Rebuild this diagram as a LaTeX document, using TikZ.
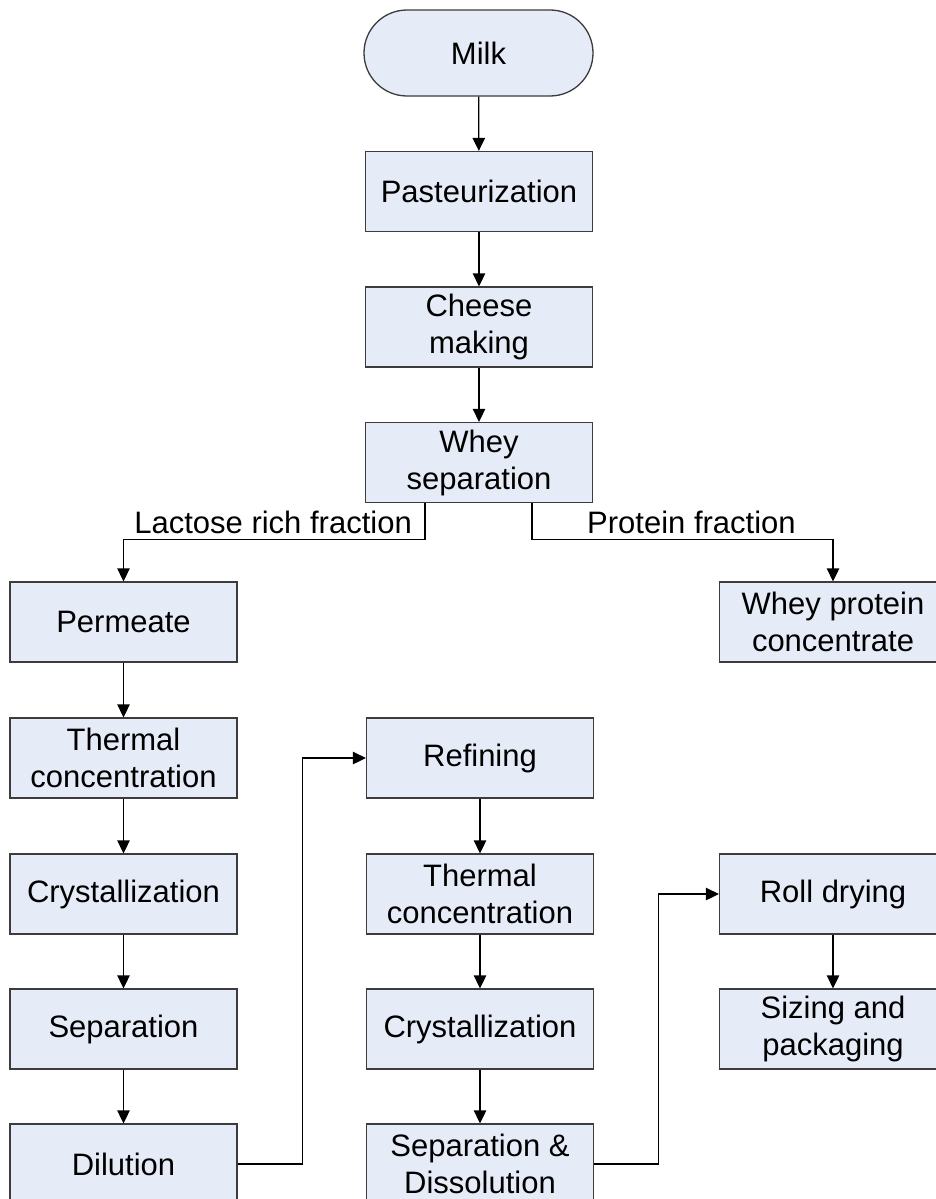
\documentclass[tikz,border=0pt]{standalone}
\usepackage{fontspec}
\setmainfont{Liberation Sans}
\usetikzlibrary{arrows.meta}
\definecolor{boxfill}{RGB}{230,236,247}
\definecolor{boxline}{RGB}{60,60,60}
\begin{document}
\begin{tikzpicture}[x=1pt,y=-1pt,
  every node/.style={font=\fontsize{31}{37}\selectfont},
  procbox/.style={draw=boxline, fill=boxfill, line width=1.3pt, minimum width=227pt, minimum height=80pt, inner sep=0pt, align=center},
  termbox/.style={procbox, rounded corners=43pt, minimum width=229pt, minimum height=86pt},
  arr/.style={line width=1.3pt, draw=black, -{Triangle[length=13pt,width=12.5pt]}},
  lbl/.style={inner sep=0pt}]
\useasboundingbox (0,0) rectangle (936,1199);
\clip (0,0) rectangle (936,1199);
\fill[white] (0,0) rectangle (936,1199);
% nodes
\node[termbox] (milk) at (478.5,53) {Milk};
\node[procbox] (past) at (479,191.5) {Pasteurization};
\node[procbox] (cheese) at (479,327) {Cheese\\making};
\node[procbox] (whey) at (479,462.5) {Whey\\separation};
\node[procbox] (perm) at (123.5,622) {Permeate};
\node[procbox] (wpc) at (833,622) {Whey protein\\concentrate};
\node[procbox] (tc1) at (123.5,758) {Thermal\\concentration};
\node[procbox] (cr1) at (123.5,894) {Crystallization};
\node[procbox] (sep1) at (123.5,1029) {Separation};
\node[procbox] (dil) at (123.5,1164) {Dilution};
\node[procbox] (ref) at (480,758) {Refining};
\node[procbox] (tc2) at (480,894) {Thermal\\concentration};
\node[procbox] (cr2) at (480,1029) {Crystallization};
\node[procbox] (sd) at (480,1164) {Separation \&\\Dissolution};
\node[procbox] (roll) at (833,894) {Roll drying};
\node[procbox] (size) at (833,1029) {Sizing and\\packaging};
% connectors
\draw[arr] (milk) -- (past);
\draw[arr] (past) -- (cheese);
\draw[arr] (cheese) -- (whey);
\draw[arr] ([xshift=-54pt]whey.south) -- ++(0,36) -| (perm.north);
\draw[arr] ([xshift=53pt]whey.south) -- ++(0,36) -| (wpc.north);
\draw[arr] (perm) -- (tc1);
\draw[arr] (tc1) -- (cr1);
\draw[arr] (cr1) -- (sep1);
\draw[arr] (sep1) -- (dil);
\draw[arr] (dil.east) -- ++(65,0) |- (ref.west);
\draw[arr] (ref) -- (tc2);
\draw[arr] (tc2) -- (cr2);
\draw[arr] (cr2) -- (sd);
\draw[arr] (sd.east) -- ++(64,0) |- (roll.west);
\draw[arr] (roll) -- (size);
% labels
\node[lbl, anchor=base east] (llac) at (412,533) {Lactose rich fraction};
\node[lbl, anchor=base west] (lprot) at (587,533) {Protein fraction};
\end{tikzpicture}
\end{document}
